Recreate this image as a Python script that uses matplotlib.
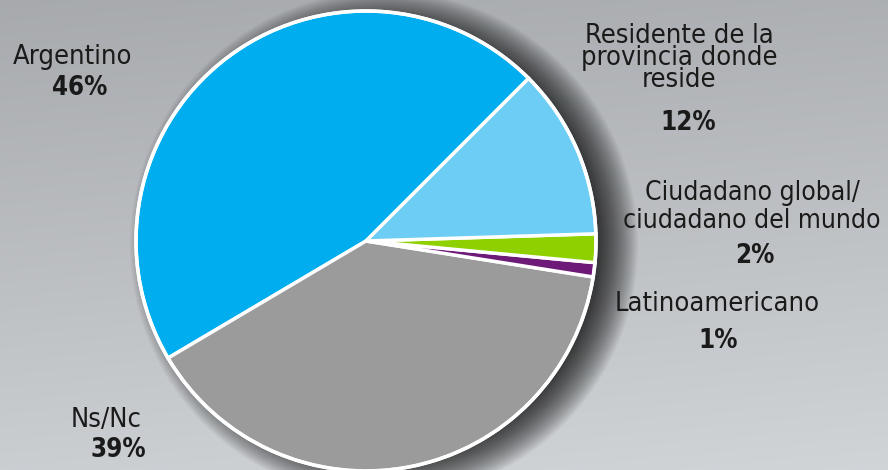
"""Pie chart: identidad declarada (Argentino, Ns/Nc, ...)."""

import numpy as np
import matplotlib
matplotlib.use("Agg")
import matplotlib.pyplot as plt
from matplotlib.patches import Circle

# ---------------------------------------------------------------------------
# Data
# ---------------------------------------------------------------------------
labels = ["Argentino", "Ns/Nc", "Latinoamericano",
          "Ciudadano global/\nciudadano del mundo",
          "Residente de la\nprovincia donde\nreside"]
values = [46, 39, 1, 2, 12]
colors = ["#00aeef", "#9b9b9b", "#6e1a78", "#8fd000", "#6dcdf5"]

W, H = 888, 470

fig = plt.figure(figsize=(W / 100, H / 100), dpi=100)
ax = fig.add_axes([0, 0, 1, 1])
ax.set_xlim(0, W)
ax.set_ylim(0, H)
ax.axis("off")

# background gradient (darker top, lighter bottom)
yy, xx = np.mgrid[0:1:200j, 0:1:200j]
grad = 0.85 * yy + 0.15 * xx
top = np.array([0.655, 0.665, 0.68])
bot = np.array([0.82, 0.832, 0.845])
bg = top + (bot - top) * grad[..., None]
ax.imshow(bg, extent=(0, W, 0, H), origin="upper", aspect="auto", zorder=0)

cx, cy, r = 366, 229, 230

# soft shadow to the right of the pie
for k in range(40):
    ax.add_patch(Circle((cx + 18, cy - 4), r + 24 - k * 1.2,
                        facecolor="black", edgecolor="none",
                        alpha=0.03, zorder=1))

wedges, _ = ax.pie(values, colors=colors, startangle=45, counterclock=True,
                   center=(cx, cy), radius=r, frame=True,
                   wedgeprops=dict(edgecolor="white", linewidth=2.5))
for w in wedges:
    w.set_zorder(2)
ax.add_patch(Circle((cx, cy), r, facecolor="none", edgecolor="white",
                    linewidth=2.5, zorder=3))
ax.set_xlim(0, W)
ax.set_ylim(0, H)
ax.set_aspect("auto")

# labels (pixel positions measured from the top)
txt = dict(family="DejaVu Sans", stretch="condensed", color="#1a1a1a",
           ha="center", va="center", zorder=5)
ax.text(73, H - 57, labels[0], fontsize=19.5, **txt)
ax.text(80, H - 88, f"{values[0]}%", fontsize=18.5, weight="bold", **txt)

ax.text(106, H - 420, labels[1], fontsize=19.5, **txt)
ax.text(118, H - 450, f"{values[1]}%", fontsize=18.5, weight="bold", **txt)

ax.text(679, H - 58, labels[4], fontsize=19.5, linespacing=0.78, **txt)
ax.text(688, H - 123, f"{values[4]}%", fontsize=18.5, weight="bold", **txt)

ax.text(752, H - 207, labels[3], fontsize=19, linespacing=1.05, **txt)
ax.text(755, H - 256, f"{values[3]}%", fontsize=18.5, weight="bold", **txt)

ax.text(717, H - 304, labels[2], fontsize=19.5, **txt)
ax.text(718, H - 341, f"{values[2]}%", fontsize=18.5, weight="bold", **txt)

fig.savefig("out.png", dpi=100)
